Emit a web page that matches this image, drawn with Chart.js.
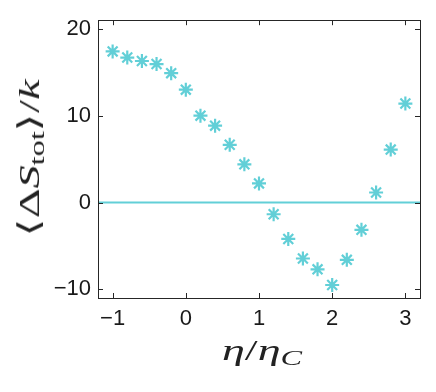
<!DOCTYPE html>
<html lang="en">
<head>
  <meta charset="UTF-8" />
  <title>Entropy production vs efficiency</title>
  <script src="https://cdn.jsdelivr.net/npm/chart.js"></script>
  <style>
    body {
      margin: 0;
      background: #fff;
    }

    #wrap {
      position: relative;
      width: 436px;
      height: 392px;
    }

    .axisTitle {
      position: absolute;
      font-family: 'Liberation Serif', serif;
      font-size: 30px;
      color: #222;
      white-space: nowrap;
      line-height: 1;
    }

    .axisTitle sub {
      font-size: 21px;
      vertical-align: -5px;
      line-height: 1;
    }

    #yTitle {
      left: 31px;
      top: 158px;
    }

    #xTitle {
      left: 262px;
      top: 352px;
    }
  </style>
</head>
<body>

  <div id="wrap">
    <canvas id="entropyChart"></canvas>
    <div id="yTitle" class="axisTitle">&#x27E8;&Delta;<i>S</i><sub>tot</sub>&#x27E9;/<i>k</i></div>
    <div id="xTitle" class="axisTitle"><i>&eta;</i>/<i>&eta;</i><sub><i>C</i></sub></div>
  </div>

  <script>
    // eta / eta_C
    const etaRatio = [-1.0, -0.8, -0.6, -0.4, -0.2, 0.0, 0.2, 0.4, 0.6, 0.8, 1.0,
                      1.2, 1.4, 1.6, 1.8, 2.0, 2.2, 2.4, 2.6, 2.8, 3.0];
    // <Delta S_tot> / k
    const entropy = [17.4, 16.7, 16.3, 15.95, 14.9, 13.0, 10.0, 8.85, 6.65, 4.4, 2.2,
                     -1.35, -4.2, -6.45, -7.7, -9.5, -6.6, -3.15, 1.15, 6.1, 11.4];
    const xTicks = [-1, 0, 1, 2, 3];
    const yTicks = [-10, 0, 10, 20];
    const xRange = [-1.2, 3.2];
    const yRange = [-11, 21];
    const refLevel = 0;

    const cyan = '#62cfd7';
    const boxColor = '#262626';

    // stretch the titles to the lengths they have in the figure
    function fitTitle(id, length, rotate) {
      const el = document.getElementById(id);
      const k = length / el.offsetWidth;
      el.style.transform = 'translate(-50%, -50%)' + (rotate ? ' rotate(-90deg)' : '') + ` scaleX(${k})`;
    }
    fitTitle('xTitle', 80, false);
    fitTitle('yTitle', 157, true);

    // MATLAB style box with inward ticks + the zero line
    const boxPlugin = {
      id: 'box',
      beforeDatasetsDraw(chart) {
        const { ctx, chartArea: a, scales } = chart;
        const y0 = scales.y.getPixelForValue(refLevel);
        ctx.save();
        ctx.strokeStyle = cyan;
        ctx.lineWidth = 2;
        ctx.beginPath();
        ctx.moveTo(a.left, y0);
        ctx.lineTo(a.right, y0);
        ctx.stroke();
        ctx.restore();
      },
      afterDatasetsDraw(chart) {
        const { ctx, chartArea: a, scales } = chart;
        const len = 5;
        ctx.save();
        ctx.strokeStyle = boxColor;
        ctx.lineWidth = 1;
        ctx.strokeRect(Math.round(a.left) + 0.5, Math.round(a.top) + 0.5,
                       Math.round(a.right - a.left), Math.round(a.bottom - a.top));
        ctx.beginPath();
        xTicks.forEach(v => {
          const px = Math.round(scales.x.getPixelForValue(v)) + 0.5;
          ctx.moveTo(px, a.bottom); ctx.lineTo(px, a.bottom - len);
          ctx.moveTo(px, a.top); ctx.lineTo(px, a.top + len);
        });
        yTicks.forEach(v => {
          const py = Math.round(scales.y.getPixelForValue(v)) + 0.5;
          ctx.moveTo(a.left, py); ctx.lineTo(a.left + len, py);
          ctx.moveTo(a.right, py); ctx.lineTo(a.right - len, py);
        });
        ctx.stroke();
        ctx.restore();
      }
    };

    const tickFont = { family: "'Liberation Sans', Arial, sans-serif", size: 22 };
    const minus = v => String(v).replace('-', '\u2212');

    new Chart(document.getElementById('entropyChart'), {
      type: 'scatter',
      data: {
        datasets: [{
          data: etaRatio.map((x, i) => ({ x, y: entropy[i] })),
          pointStyle: 'star',
          pointRadius: 7,
          pointBorderWidth: 2.2,
          borderColor: cyan,
          backgroundColor: cyan
        }]
      },
      options: {
        responsive: true,
        maintainAspectRatio: false,
        animation: false,
        layout: { padding: { top: 15, right: 16, left: 0, bottom: 0 } },
        plugins: {
          legend: { display: false },
          tooltip: { enabled: false }
        },
        scales: {
          x: {
            type: 'linear',
            min: xRange[0],
            max: xRange[1],
            afterBuildTicks: s => { s.ticks = xTicks.map(value => ({ value })); },
            afterFit: s => { s.height = 94; },
            grid: { display: false, drawTicks: false },
            border: { display: false },
            ticks: { font: tickFont, color: '#1a1a1a', padding: 8, callback: minus, maxRotation: 0 }
          },
          y: {
            min: yRange[0],
            max: yRange[1],
            afterBuildTicks: s => { s.ticks = yTicks.map(value => ({ value })); },
            afterFit: s => { s.width = 98; },
            grid: { display: false, drawTicks: false },
            border: { display: false },
            ticks: { font: tickFont, color: '#1a1a1a', padding: 7, callback: minus }
          }
        }
      },
      plugins: [boxPlugin]
    });
  </script>

</body>
</html>
